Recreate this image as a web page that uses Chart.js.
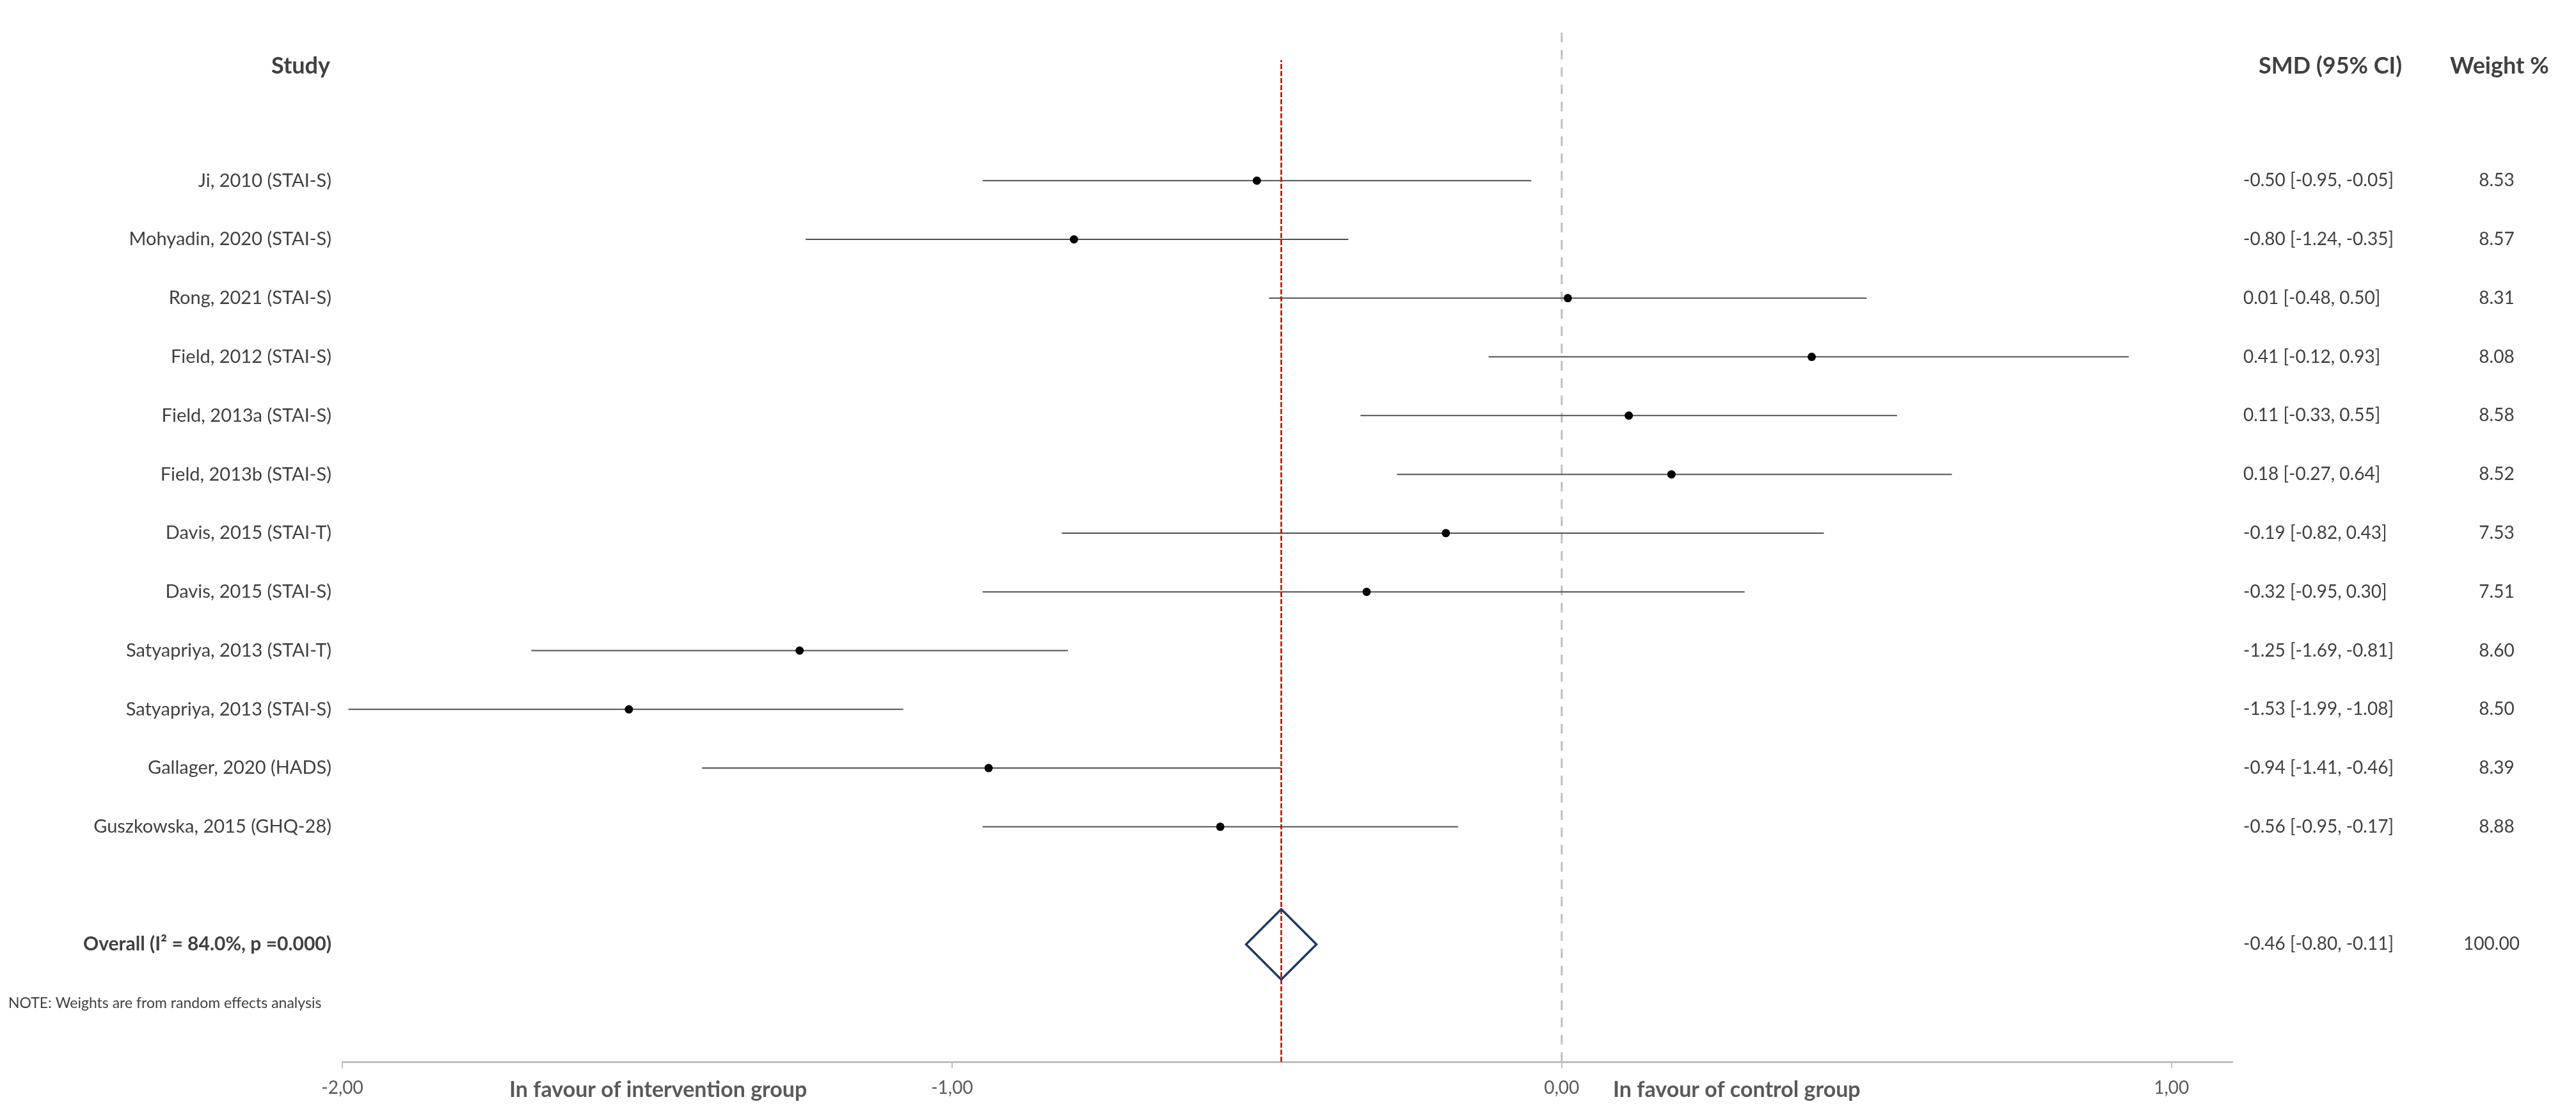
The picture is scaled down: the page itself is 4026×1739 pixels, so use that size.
<!DOCTYPE html>
<html>
<head>
<meta charset="utf-8">
<script src="https://cdn.jsdelivr.net/npm/chart.js@4/dist/chart.umd.min.js"></script>
<style>
  html, body { margin: 0; padding: 0; background: #ffffff; }
</style>
</head>
<body>
<canvas id="forestChart" width="4026" height="1739"></canvas>
<script>
// study rows, top to bottom
const studies = [
  'Ji, 2010 (STAI-S)',
  'Mohyadin, 2020 (STAI-S)',
  'Rong, 2021 (STAI-S)',
  'Field, 2012 (STAI-S)',
  'Field, 2013a (STAI-S)',
  'Field, 2013b (STAI-S)',
  'Davis, 2015 (STAI-T)',
  'Davis, 2015 (STAI-S)',
  'Satyapriya, 2013 (STAI-T)',
  'Satyapriya, 2013 (STAI-S)',
  'Gallager, 2020 (HADS)',
  'Guszkowska, 2015 (GHQ-28)',
];
const smdValues = [-0.50, -0.80, 0.01, 0.41, 0.11, 0.18, -0.19, -0.32, -1.25, -1.53, -0.94, -0.56];
const ciLower = [-0.95, -1.24, -0.48, -0.12, -0.33, -0.27, -0.82, -0.95, -1.69, -1.99, -1.41, -0.95];
const ciUpper = [-0.05, -0.35, 0.50, 0.93, 0.55, 0.64, 0.43, 0.30, -0.81, -1.08, -0.46, -0.17];
const weights = [8.53, 8.57, 8.31, 8.08, 8.58, 8.52, 7.53, 7.51, 8.60, 8.50, 8.39, 8.88];
const rowPositions = [15, 14, 13, 12, 11, 10, 9, 8, 7, 6, 5, 4];

const overallLabel = 'Overall (I² = 84.0%, p =0.000)';
const overallSmd = -0.46;
const overallLower = -0.80;
const overallUpper = -0.11;
const overallWeight = 100.00;
const overallRow = 2;
const overallLineTop = 17.05;

const noteText = 'NOTE: Weights are from random effects analysis';
const noteRow = 1;

const xMin = -2;
const xMax = 1.1;
const yMax = 17.65;

const textColor = '#404040';
const FONT = 'Lato, "Open Sans", sans-serif';

const fmt = (v) => v.toFixed(2);

// CI whiskers, one small dataset per study
const ciDatasets = studies.map((name, i) => ({
  type: 'line',
  label: name,
  data: [
    { x: ciLower[i], y: rowPositions[i] },
    { x: ciUpper[i], y: rowPositions[i] },
  ],
  borderColor: '#505050',
  borderWidth: 2,
  pointRadius: 0,
  order: 4,
}));

const textPlugin = {
  id: 'forestText',
  afterDraw(chart) {
    const ctx = chart.ctx;
    const yScale = chart.scales.y;
    ctx.save();
    ctx.fillStyle = textColor;
    ctx.textBaseline = 'middle';

    // headers
    ctx.font = `bold 36px ${FONT}`;
    ctx.textAlign = 'right';
    ctx.fillText('Study', 516, 103);
    ctx.textAlign = 'left';
    ctx.fillText('SMD (95% CI)', 3530, 103);
    ctx.fillText('Weight %', 3829, 103);

    // study rows
    studies.forEach((name, i) => {
      const y = yScale.getPixelForValue(rowPositions[i]);
      ctx.font = `29px ${FONT}`;
      ctx.textAlign = 'right';
      ctx.fillText(name, 518, y);
      ctx.font = `28px ${FONT}`;
      ctx.textAlign = 'left';
      ctx.fillText(`${fmt(smdValues[i])} [${fmt(ciLower[i])}, ${fmt(ciUpper[i])}]`, 3506, y);
      ctx.textAlign = 'center';
      ctx.fillText(fmt(weights[i]), 3902, y);
    });

    // overall row
    const oy = yScale.getPixelForValue(overallRow);
    ctx.textAlign = 'left';
    ctx.fillText(`${fmt(overallSmd)} [${fmt(overallLower)}, ${fmt(overallUpper)}]`, 3506, oy);
    ctx.textAlign = 'center';
    ctx.fillText(fmt(overallWeight), 3894, oy);
    ctx.font = `bold 30px ${FONT}`;
    ctx.textAlign = 'right';
    ctx.fillText(overallLabel, 518, oy);

    // note
    ctx.font = `23px ${FONT}`;
    ctx.textAlign = 'left';
    ctx.fillText(noteText, 13, yScale.getPixelForValue(noteRow));

    // favour labels under the axis
    ctx.font = `bold 34px ${FONT}`;
    ctx.fillStyle = '#595959';
    ctx.fillText('In favour of intervention group', 796, 1703);
    ctx.fillText('In favour of control group', 2521, 1703);
    ctx.restore();
  },
};

new Chart(document.getElementById('forestChart'), {
  type: 'scatter',
  data: {
    datasets: [
      {
        label: 'SMD',
        data: smdValues.map((v, i) => ({ x: v, y: rowPositions[i] })),
        backgroundColor: '#000000',
        borderWidth: 0,
        pointRadius: 6.5,
        order: 1,
      },
      {
        label: 'Overall',
        data: [{ x: overallSmd, y: overallRow }],
        pointStyle: 'rectRot',
        pointRadius: 55,
        backgroundColor: 'rgba(0,0,0,0)',
        borderColor: '#1f3864',
        borderWidth: 3.5,
        order: 2,
      },
      {
        type: 'line',
        label: 'Overall effect',
        data: [{ x: overallSmd, y: 0 }, { x: overallSmd, y: overallLineTop }],
        borderColor: '#c00000',
        borderWidth: 2.5,
        borderDash: [8, 3],
        pointRadius: 0,
        order: 3,
      },
      ...ciDatasets,
      {
        type: 'line',
        label: 'No effect',
        data: [{ x: 0, y: 0 }, { x: 0, y: yMax }],
        borderColor: '#bfbfbf',
        borderWidth: 3,
        borderDash: [15, 12],
        pointRadius: 0,
        order: 5,
      },
    ],
  },
  options: {
    responsive: false,
    animation: false,
    devicePixelRatio: 1,
    layout: {
      autoPadding: false,
      padding: { left: 535, right: 537, top: 39, bottom: 0 },
    },
    plugins: {
      legend: { display: false },
      tooltip: { enabled: false },
    },
    scales: {
      x: {
        type: 'linear',
        min: xMin,
        max: xMax,
        afterFit: (scale) => { scale.height = 80; },
        ticks: {
          stepSize: 1,
          includeBounds: false,
          padding: 14,
          color: '#595959',
          font: { family: FONT, size: 28 },
          callback: (v) => fmt(v).replace('.', ','),
        },
        grid: {
          drawOnChartArea: false,
          drawTicks: true,
          tickLength: 10,
          color: '#bfbfbf',
          lineWidth: 2,
        },
        border: { color: '#bfbfbf', width: 3 },
      },
      y: {
        type: 'linear',
        min: 0,
        max: yMax,
        display: false,
      },
    },
  },
  plugins: [textPlugin],
});
</script>
</body>
</html>
